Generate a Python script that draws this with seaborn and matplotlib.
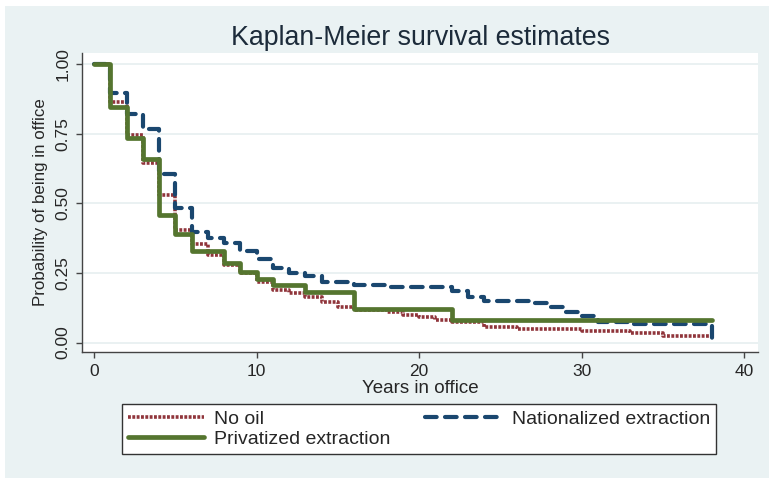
import numpy as np
import pandas as pd
import matplotlib
matplotlib.use('Agg')
import matplotlib.pyplot as plt
from matplotlib.patches import Rectangle
import seaborn as sns

# Kaplan-Meier step estimates (time, survival from that time on)
no_oil_t = [0, 1, 2, 3, 4, 5, 6, 7, 8, 9, 10, 11, 12, 13, 14, 15, 16, 18, 19, 20, 21, 22, 24, 26, 30, 33, 35, 38]
no_oil_s = [1.0, 0.864, 0.745, 0.645, 0.53, 0.405, 0.355, 0.315, 0.28, 0.25, 0.218, 0.19, 0.178, 0.165,
            0.147, 0.129, 0.118, 0.11, 0.1, 0.09, 0.08, 0.075, 0.057, 0.05, 0.042, 0.035, 0.022, 0.015]

nat_t = [0, 1, 2, 3, 4, 5, 6, 7, 8, 9, 10, 11, 12, 13, 14, 16, 18, 22, 23, 24, 27, 28, 29, 30, 31, 33, 38]
nat_s = [1.0, 0.896, 0.82, 0.767, 0.605, 0.484, 0.398, 0.376, 0.358, 0.33, 0.30, 0.268, 0.25, 0.24,
         0.218, 0.208, 0.2, 0.186, 0.165, 0.15, 0.143, 0.129, 0.111, 0.097, 0.075, 0.068, 0.0]

priv_t = [0, 1, 2, 3, 4, 5, 6, 8, 9, 10, 11, 13, 16, 22, 38]
priv_s = [1.0, 0.846, 0.735, 0.66, 0.459, 0.39, 0.33, 0.285, 0.255, 0.229, 0.205, 0.18, 0.12, 0.08, 0.08]

x_ticks = [0, 10, 20, 30, 40]
y_ticks = [0.0, 0.25, 0.5, 0.75, 1.0]
y_ticklabels = ['0.00', '0.25', '0.50', '0.75', '1.00']

sns.set_style("white")
plt.rcParams['font.family'] = ['Liberation Sans', 'DejaVu Sans']

outer = '#EAF2F3'
fig = plt.figure(figsize=(7.69, 4.78), dpi=100)
fig.patch.set_facecolor('white')
# stata-like outer region (small white strip top and left)
bg = Rectangle((5 / 769, 0), 1, 1 - 6 / 478, transform=fig.transFigure,
               facecolor=outer, edgecolor='none', zorder=-10)
fig.patches.append(bg)

ax = fig.add_axes([82 / 769, (478 - 352) / 478, (758 - 82) / 769, (352 - 53) / 478])
ax.set_facecolor('white')

sns.lineplot(x=no_oil_t, y=no_oil_s, ax=ax, estimator=None, sort=False, drawstyle='steps-post',
             color='#90353B', linewidth=2.6, linestyle=(0, (0.8, 0.4)), label='No oil', zorder=3)
sns.lineplot(x=nat_t, y=nat_s, ax=ax, estimator=None, sort=False, drawstyle='steps-post',
             color='#1A476F', linewidth=3.0, linestyle=(0, (2.8, 2.0)), dash_capstyle='round',
             label='Nationalized extraction', zorder=4)
sns.lineplot(x=priv_t, y=priv_s, ax=ax, estimator=None, sort=False, drawstyle='steps-post',
             color='#55752F', linewidth=3.4, label='Privatized extraction', zorder=5)

if ax.get_legend() is not None:
    ax.get_legend().remove()

ax.set_xlim(-0.74, 40.86)
ax.set_ylim(-0.034, 1.0395)
ax.set_xticks(x_ticks)
ax.set_yticks(y_ticks)
ax.set_yticklabels(y_ticklabels, rotation=90, va='center')
ax.tick_params(axis='both', direction='out', length=4.5, width=1, color='#444444',
               labelsize=12.5, pad=4, left=True, bottom=True)
ax.yaxis.grid(True, color='#E8F0F1', linewidth=1.3, zorder=0)
ax.xaxis.grid(False)
ax.set_axisbelow(True)
for loc, spine in ax.spines.items():
    if loc in ['left', 'bottom']:
        spine.set_color('#444444')
        spine.set_linewidth(1)
    else:
        spine.set_color('none')

ax.set_xlabel('Years in office', fontsize=13.5, labelpad=1)
ax.set_ylabel('Probability of being in office', fontsize=12.2, labelpad=5)
fig.text(420 / 769, 1 - 38 / 478, 'Kaplan-Meier survival estimates', ha='center', va='center',
         fontsize=19.3, color='#1C2B3A')

handles, labels = ax.get_legend_handles_labels()
order = [0, 2, 1]
leg = fig.legend([handles[i] for i in order], [labels[i] for i in order], ncol=2, mode='expand',
                 bbox_to_anchor=(122 / 769, 24 / 478, 594 / 769, 50 / 478), loc='lower left',
                 fontsize=14, frameon=True, fancybox=False, handlelength=3.9, handletextpad=0.55,
                 borderpad=0.3, labelspacing=0.15, borderaxespad=0)
leg.get_frame().set_edgecolor('#333333')
leg.get_frame().set_linewidth(1)
leg.get_frame().set_facecolor('white')
leg.get_frame().set_alpha(1)

plt.savefig('out.png', dpi=100, facecolor=fig.get_facecolor())
